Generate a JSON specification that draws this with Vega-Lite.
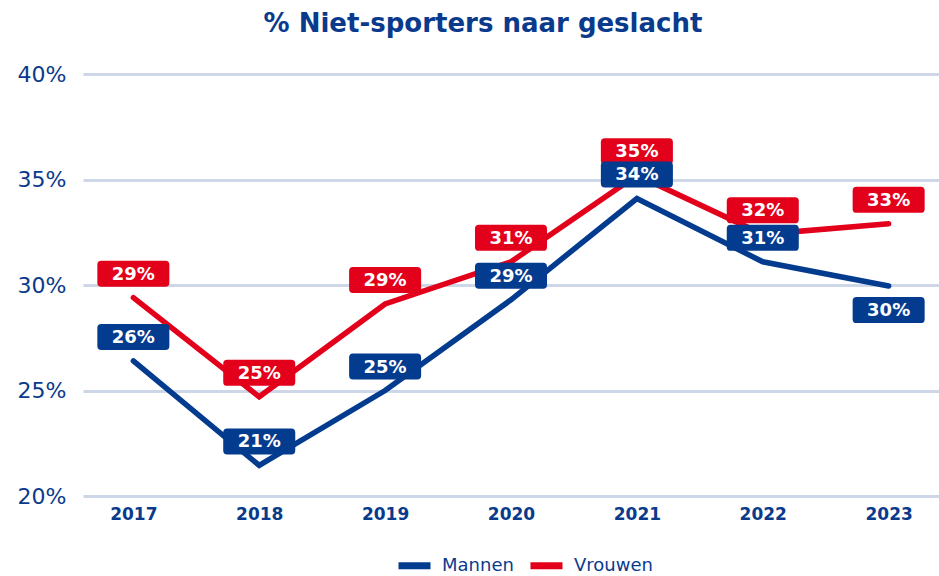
{
  "$schema": "https://vega.github.io/schema/vega-lite/v6.json",
  "width": 856,
  "height": 422,
  "autosize": {"type": "none"},
  "padding": {"left": 83, "top": 74, "right": 0, "bottom": 80},
  "title": {
    "text": "% Niet-sporters naar geslacht",
    "fontSize": 26,
    "font": "DejaVu Sans",
    "fontWeight": "bold",
    "color": "#0a3a8c",
    "offset": 26,
    "dx": -28
  },
  "config": {"view": {"stroke": null}, "font": "DejaVu Sans"},
  "data": {
    "values": [
      {"jaar": "2017", "geslacht": "Vrouwen", "waarde": 0.294},
      {"jaar": "2018", "geslacht": "Vrouwen", "waarde": 0.247},
      {"jaar": "2019", "geslacht": "Vrouwen", "waarde": 0.291},
      {"jaar": "2020", "geslacht": "Vrouwen", "waarde": 0.311},
      {"jaar": "2021", "geslacht": "Vrouwen", "waarde": 0.352},
      {"jaar": "2022", "geslacht": "Vrouwen", "waarde": 0.324},
      {"jaar": "2023", "geslacht": "Vrouwen", "waarde": 0.329},
      {"jaar": "2017", "geslacht": "Mannen", "waarde": 0.264},
      {"jaar": "2018", "geslacht": "Mannen", "waarde": 0.2145},
      {"jaar": "2019", "geslacht": "Mannen", "waarde": 0.250},
      {"jaar": "2020", "geslacht": "Mannen", "waarde": 0.293},
      {"jaar": "2021", "geslacht": "Mannen", "waarde": 0.341},
      {"jaar": "2022", "geslacht": "Mannen", "waarde": 0.311},
      {"jaar": "2023", "geslacht": "Mannen", "waarde": 0.2995}
    ]
  },
  "encoding": {
    "x": {
      "field": "jaar",
      "type": "ordinal",
      "scale": {"type": "point", "padding": 0.4},
      "axis": {
        "title": null,
        "labelAngle": 0,
        "labelFontSize": 17,
        "labelFontWeight": "bold",
        "labelColor": "#0a3a8c",
        "labelPadding": 10,
        "ticks": false,
        "domain": false,
        "grid": false
      }
    },
    "y": {
      "field": "waarde",
      "type": "quantitative",
      "scale": {"domain": [0.2, 0.4]},
      "axis": {
        "title": null,
        "format": ".0%",
        "values": [0.2, 0.25, 0.3, 0.35, 0.4],
        "labelFontSize": 22,
        "labelColor": "#0a3a8c",
        "labelPadding": 17,
        "ticks": false,
        "domain": false,
        "grid": true,
        "gridColor": "#cdd7e8",
        "gridWidth": 3
      }
    },
    "color": {
      "field": "geslacht",
      "type": "nominal",
      "scale": {"domain": ["Mannen", "Vrouwen"], "range": ["#033b8e", "#e2001a"]},
      "legend": {
        "title": null,
        "orient": "none",
        "direction": "horizontal",
        "legendX": 312,
        "legendY": 472,
        "symbolType": "stroke",
        "symbolSize": 1024,
        "symbolStrokeWidth": 7,
        "labelFontSize": 18,
        "labelColor": "#0a3a8c",
        "labelOffset": 8,
        "columnPadding": 2
      }
    }
  },
  "layer": [
    {
      "mark": {"type": "line", "strokeWidth": 5.5, "strokeCap": "round", "strokeJoin": "miter"}
    },
    {
      "transform": [{"filter": "!(datum.geslacht == 'Mannen' && datum.jaar == '2023')"}],
      "mark": {
        "type": "point",
        "shape": "M-2.47,-1 L2.47,-1 Q2.77,-1 2.77,-0.7 L2.77,0.7 Q2.77,1 2.47,1 L-2.47,1 Q-2.77,1 -2.77,0.7 L-2.77,-0.7 Q-2.77,-1 -2.47,-1 Z",
        "size": 676,
        "filled": true,
        "opacity": 1,
        "strokeWidth": 0,
        "yOffset": -24
      }
    },
    {
      "transform": [{"filter": "datum.geslacht == 'Mannen' && datum.jaar == '2023'"}],
      "mark": {
        "type": "point",
        "shape": "M-2.47,-1 L2.47,-1 Q2.77,-1 2.77,-0.7 L2.77,0.7 Q2.77,1 2.47,1 L-2.47,1 Q-2.77,1 -2.77,0.7 L-2.77,-0.7 Q-2.77,-1 -2.47,-1 Z",
        "size": 676,
        "filled": true,
        "opacity": 1,
        "strokeWidth": 0,
        "yOffset": 24
      }
    },
    {
      "transform": [{"filter": "!(datum.geslacht == 'Mannen' && datum.jaar == '2023')"}],
      "mark": {"type": "text", "fontSize": 18, "fontWeight": "bold", "baseline": "middle", "align": "center", "yOffset": -23},
      "encoding": {
        "text": {"field": "waarde", "type": "quantitative", "format": ".0%"},
        "color": {"value": "white"}
      }
    },
    {
      "transform": [{"filter": "datum.geslacht == 'Mannen' && datum.jaar == '2023'"}],
      "mark": {"type": "text", "fontSize": 18, "fontWeight": "bold", "baseline": "middle", "align": "center", "yOffset": 25},
      "encoding": {
        "text": {"field": "waarde", "type": "quantitative", "format": ".0%"},
        "color": {"value": "white"}
      }
    }
  ]
}
